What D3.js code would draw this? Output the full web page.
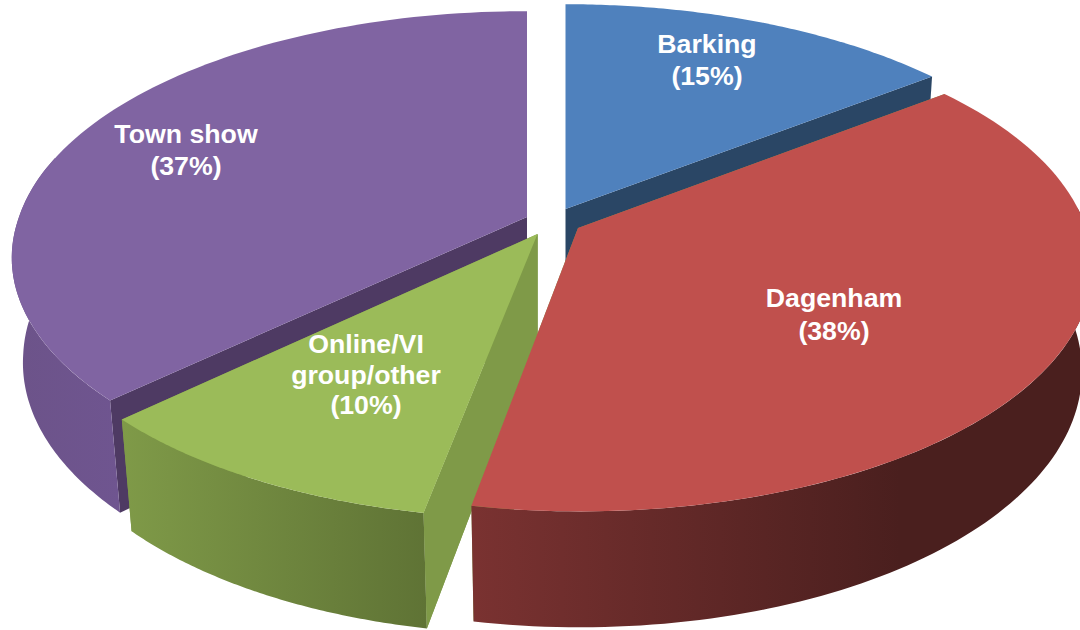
<!DOCTYPE html>
<html><head><meta charset="utf-8">
<script src="https://cdn.jsdelivr.net/npm/d3@7"></script>
<style>html,body{margin:0;padding:0;background:#fff;overflow:hidden}svg{display:block}
text{font-family:"Liberation Sans",Arial,sans-serif;font-weight:700;fill:#fff;font-size:26.7px;text-anchor:middle}</style>
</head><body><svg id="c" width="1080" height="630"></svg>
<script>
// Data
const categories = ["Barking","Dagenham","Online/VI group/other","Town show"];
const values = [14.5,38.4,10.0,37.1];
const labelLines = [["Barking","(15%)"],["Dagenham","(38%)"],["Online/VI","group/other","(10%)"],["Town show","(37%)"]];
const topColors = ["#4f81bd","#c0504d","#9bbb59","#8064a2"];
const wallColors = ["#2a4665","#7f9a48","#7f9a48","#4e3a63"];
const sideStops = [["#3b608e","#2a4665"],["#7a3231","#4a1f1e"],["#7f9a48","#5f7335"],["#6c5389","#6f5590"]];

// Layout
const apex = [[565.5,209],[578,228],[537.5,234],[527,217]];
const labelPos = [[707,53],[834,307],[366,353],[186,143]];
const lineGap = [32,33,30.5,32];
const A=508,B=239,C=106,p=0.155,q=0.02,xc=567,yc=225;
const drawOrder=[0,3,2,1];
const visibleArc=[85*Math.PI/180,285*Math.PI/180];

const svg=d3.select("#c");
const defs=svg.append("defs");
const pie=d3.pie().sort(null).value(d=>d).startAngle(0).endAngle(2*Math.PI);
const arcs=pie(values);
const line=d3.line().x(d=>d[0]).y(d=>d[1]);

function proj(i,a,r,z){
  const X=r*Math.sin(a),Y=-r*Math.cos(a),w=1-p*Y+q*z;
  const [ax,ay]=apex[i];
  const near=Math.max(0,1/w-1);
  return [ax+A*X/w+(ax-xc)*near, yc+(ay-yc+B*Y+C*z)/w];
}
function samples(a0,a1,n=90){
  const s=d3.scaleLinear().domain([0,n]).range([a0,a1]);
  return d3.range(n+1).map(s);
}
const closed=pts=>line(pts)+"Z";
const wall=(g,i,a)=>g.append("path").attr("fill",wallColors[i])
  .attr("d",closed([proj(i,a,0,0),proj(i,a,1,0),proj(i,a,1,1),proj(i,a,0,1)]));

drawOrder.forEach(i=>{
  const {startAngle:a0,endAngle:a1}=arcs[i];
  const g=svg.append("g").attr("class","slice").attr("data-name",categories[i]);
  const outerTop=samples(a0,a1).map(a=>proj(i,a,1,0));
  wall(g,i,a1);
  wall(g,i,a0);
  const v0=Math.max(a0,visibleArc[0]),v1=Math.min(a1,visibleArc[1]);
  if(v1>v0){
    const ang=samples(v0,v1);
    const t=ang.map(a=>proj(i,a,1,0)),b=ang.map(a=>proj(i,a,1,1));
    const xs=t.concat(b).map(d=>d[0]);
    const gid="side"+i;
    const lg=defs.append("linearGradient").attr("id",gid).attr("gradientUnits","userSpaceOnUse")
      .attr("x1",d3.min(xs)).attr("x2",Math.min(d3.max(xs),i===1?900:1e4)).attr("y1",0).attr("y2",0);
    lg.append("stop").attr("offset",0).attr("stop-color",sideStops[i][0]);
    lg.append("stop").attr("offset",1).attr("stop-color",sideStops[i][1]);
    g.append("path").attr("fill",`url(#${gid})`).attr("d",closed(t.concat(b.reverse())));
  }
  // the Online slice's front wall sits over the edge of its own side
  if(i===2) wall(g,i,a0);
  g.append("path").attr("fill",topColors[i]).attr("d",closed([proj(i,a0,0,0)].concat(outerTop)));
});

labelLines.forEach((ls,i)=>{
  const t=svg.append("text").attr("x",labelPos[i][0]).attr("y",labelPos[i][1]);
  ls.forEach((l,k)=>t.append("tspan").attr("x",labelPos[i][0]).attr("dy",k?lineGap[i]:0).text(l));
});
</script></body></html>
